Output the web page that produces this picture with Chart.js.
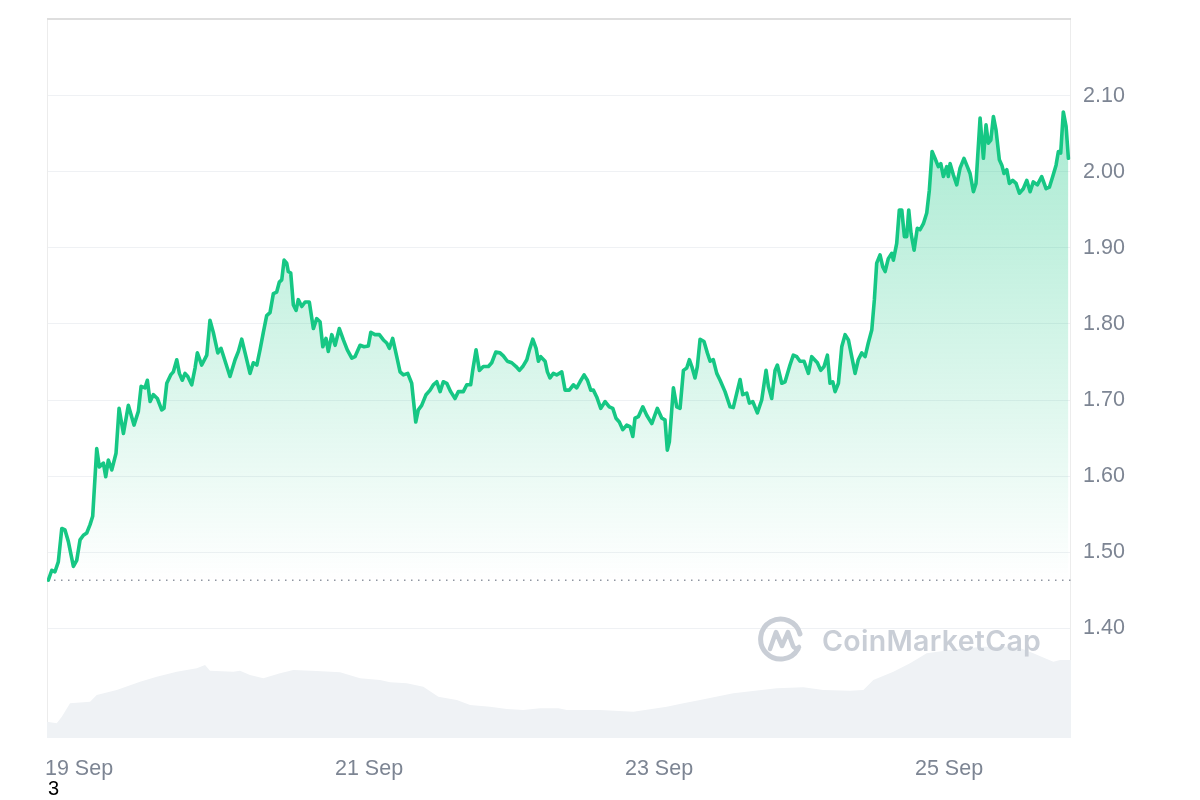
<!DOCTYPE html>
<html>
<head>
<meta charset="utf-8">
<script src="https://cdn.jsdelivr.net/npm/chart.js@4"></script>
<style>
  body { margin: 0; background: #fff; }
  #wrap { position: relative; width: 1200px; height: 800px; }
  #mark { position: absolute; left: 758px; top: 616px; pointer-events: none; display: flex; align-items: center; }
  #mark span { font-family: Inter, "Noto Sans", sans-serif; font-weight: 600; font-size: 28.5px; color: #c9ced6; margin-left: 16px; letter-spacing: 0.3px; }
  #num { position: absolute; left: 48px; top: 777px; font-family: "Liberation Sans", Arial, sans-serif; font-size: 20px; color: #000; }
</style>
</head>
<body>
<div id="wrap">
  <canvas id="priceChart" width="1200" height="800"></canvas>
  <div id="mark">
    <svg width="48" height="48" viewBox="0 0 48 48">
      <path d="M40 33 A20 20 0 1 1 42 18" fill="none" stroke="#c9ced6" stroke-width="5" stroke-linecap="round"/>
      <path d="M12 33 L18 16 L24 30 L30 16 L35 30 Q37 34 41 31" fill="none" stroke="#c9ced6" stroke-width="4.5" stroke-linejoin="round" stroke-linecap="round"/>
    </svg>
    <span>CoinMarketCap</span>
  </div>
  <div id="num">3</div>
</div>
<script>
// time in days from 19 Sep 00:00
const priceTimes = [
  -0.212, -0.188, -0.166, -0.143, -0.119, -0.097, -0.074, -0.039, -0.016, 0.007,
  0.030, 0.053, 0.076, 0.094, 0.122, 0.140, 0.168, 0.184, 0.202, 0.226,
  0.255, 0.276, 0.306, 0.340, 0.379, 0.409, 0.428, 0.455, 0.471, 0.490,
  0.512, 0.540, 0.570, 0.586, 0.605, 0.632, 0.650, 0.674, 0.692, 0.712,
  0.731, 0.750, 0.777, 0.800, 0.816, 0.846, 0.881, 0.903, 0.926, 0.957,
  0.979, 1.041, 1.076, 1.099, 1.122, 1.145, 1.179, 1.202, 1.226, 1.248,
  1.271, 1.294, 1.317, 1.340, 1.363, 1.381, 1.398, 1.414, 1.432, 1.443,
  1.460, 1.478, 1.497, 1.512, 1.536, 1.559, 1.588, 1.616, 1.639, 1.662,
  1.681, 1.703, 1.719, 1.743, 1.766, 1.795, 1.823, 1.850, 1.881, 1.903,
  1.938, 1.966, 1.995, 2.012, 2.041, 2.071, 2.099, 2.122, 2.140, 2.163,
  2.191, 2.214, 2.237, 2.267, 2.294, 2.306, 2.322, 2.340, 2.363, 2.393,
  2.421, 2.443, 2.467, 2.490, 2.512, 2.536, 2.563, 2.593, 2.616, 2.650,
  2.674, 2.701, 2.715, 2.738, 2.761, 2.788, 2.823, 2.846, 2.874, 2.903,
  2.926, 2.954, 2.984, 3.014, 3.037, 3.060, 3.088, 3.106, 3.129, 3.152,
  3.168, 3.184, 3.214, 3.230, 3.248, 3.271, 3.294, 3.329, 3.352, 3.381,
  3.409, 3.432, 3.455, 3.483, 3.506, 3.529, 3.547, 3.570, 3.598, 3.628,
  3.657, 3.681, 3.703, 3.726, 3.750, 3.777, 3.800, 3.819, 3.834, 3.857,
  3.888, 3.915, 3.950, 3.988, 4.019, 4.041, 4.057, 4.071, 4.099, 4.122,
  4.145, 4.168, 4.191, 4.209, 4.226, 4.248, 4.264, 4.283, 4.310, 4.333,
  4.352, 4.374, 4.398, 4.421, 4.455, 4.490, 4.512, 4.536, 4.559, 4.577,
  4.605, 4.623, 4.646, 4.678, 4.708, 4.738, 4.754, 4.777, 4.800, 4.816,
  4.846, 4.869, 4.903, 4.926, 4.950, 4.972, 5.000, 5.030, 5.053, 5.092,
  5.115, 5.138, 5.161, 5.179, 5.198, 5.214, 5.237, 5.260, 5.283, 5.306,
  5.329, 5.352, 5.374, 5.398, 5.421, 5.443, 5.467, 5.485, 5.501, 5.524,
  5.543, 5.559, 5.581, 5.605, 5.616, 5.639, 5.657, 5.674, 5.692, 5.708,
  5.722, 5.738, 5.759, 5.781, 5.800, 5.823, 5.846, 5.864, 5.883, 5.903,
  5.926, 5.943, 5.961, 5.984, 5.995, 6.007, 6.030, 6.053, 6.076, 6.103,
  6.126, 6.145, 6.168, 6.186, 6.214, 6.237, 6.255, 6.271, 6.288, 6.306,
  6.324, 6.347, 6.364, 6.379, 6.398, 6.416, 6.439, 6.462, 6.485, 6.512,
  6.536, 6.559, 6.581, 6.609, 6.639, 6.669, 6.692, 6.715, 6.738, 6.754,
  6.770, 6.788, 6.807, 6.823
];
const prices = [
  1.463, 1.476, 1.474, 1.487, 1.531, 1.529, 1.514, 1.481, 1.489, 1.516,
  1.522, 1.525, 1.536, 1.547, 1.636, 1.612, 1.617, 1.599, 1.621, 1.608,
  1.630, 1.689, 1.656, 1.693, 1.667, 1.685, 1.718, 1.716, 1.726, 1.698,
  1.707, 1.702, 1.687, 1.689, 1.722, 1.733, 1.737, 1.753, 1.735, 1.726,
  1.735, 1.731, 1.720, 1.742, 1.762, 1.746, 1.759, 1.805, 1.789, 1.762,
  1.768, 1.731, 1.753, 1.764, 1.780, 1.762, 1.735, 1.749, 1.746, 1.766,
  1.789, 1.811, 1.815, 1.840, 1.842, 1.855, 1.858, 1.884, 1.880, 1.869,
  1.867, 1.825, 1.818, 1.832, 1.823, 1.829, 1.829, 1.794, 1.807, 1.803,
  1.770, 1.781, 1.764, 1.786, 1.772, 1.794, 1.779, 1.766, 1.755, 1.757,
  1.772, 1.770, 1.771, 1.789, 1.786, 1.786, 1.779, 1.775, 1.768, 1.781,
  1.757, 1.737, 1.733, 1.735, 1.722, 1.700, 1.671, 1.687, 1.693, 1.707,
  1.713, 1.720, 1.724, 1.711, 1.724, 1.722, 1.711, 1.702, 1.711, 1.711,
  1.720, 1.720, 1.739, 1.766, 1.739, 1.744, 1.744, 1.749, 1.763, 1.762,
  1.758, 1.751, 1.749, 1.744, 1.739, 1.744, 1.753, 1.766, 1.780, 1.768,
  1.751, 1.757, 1.751, 1.737, 1.729, 1.735, 1.733, 1.737, 1.713, 1.713,
  1.720, 1.716, 1.724, 1.733, 1.726, 1.713, 1.713, 1.704, 1.689, 1.698,
  1.691, 1.689, 1.676, 1.671, 1.661, 1.667, 1.665, 1.652, 1.676, 1.678,
  1.691, 1.680, 1.669, 1.689, 1.676, 1.674, 1.634, 1.645, 1.716, 1.691,
  1.689, 1.739, 1.742, 1.753, 1.744, 1.729, 1.744, 1.780, 1.777, 1.762,
  1.751, 1.753, 1.735, 1.726, 1.711, 1.691, 1.690, 1.709, 1.727, 1.707,
  1.709, 1.696, 1.698, 1.683, 1.700, 1.739, 1.718, 1.702, 1.739, 1.746,
  1.722, 1.724, 1.746, 1.759, 1.757, 1.751, 1.751, 1.735, 1.757, 1.749,
  1.739, 1.744, 1.759, 1.722, 1.724, 1.711, 1.722, 1.770, 1.786, 1.779,
  1.757, 1.735, 1.753, 1.762, 1.757, 1.775, 1.792, 1.832, 1.880, 1.891,
  1.875, 1.869, 1.886, 1.893, 1.884, 1.906, 1.950, 1.950, 1.915, 1.915,
  1.950, 1.919, 1.897, 1.926, 1.924, 1.932, 1.946, 1.976, 2.027, 2.018,
  2.007, 2.011, 1.994, 2.007, 1.994, 2.011, 1.996, 1.983, 2.005, 2.018,
  2.007, 1.998, 1.974, 1.985, 2.071, 2.018, 2.062, 2.038, 2.042, 2.073,
  2.055, 2.016, 2.009, 1.998, 2.003, 1.985, 1.989, 1.985, 1.972, 1.978,
  1.989, 1.974, 1.987, 1.983, 1.994, 1.978, 1.980, 1.994, 2.009, 2.027,
  2.025, 2.079, 2.060, 2.018
];
const volTimes = [
  -0.223, -0.154, -0.119, -0.062, 0.076, 0.122, 0.260, 0.421, 0.536, 0.674,
  0.812, 0.869, 0.903, 1.064, 1.110, 1.179, 1.271, 1.386, 1.478, 1.639,
  1.800, 1.938, 2.076, 2.145, 2.260, 2.374, 2.478, 2.605, 2.697, 2.834,
  2.950, 3.064, 3.179, 3.306, 3.363, 3.593, 3.823, 4.053, 4.168, 4.283,
  4.512, 4.812, 4.995, 5.133, 5.317, 5.409, 5.478, 5.616, 5.731, 5.846,
  6.007, 6.237, 6.467, 6.581, 6.719, 6.766, 6.841
];
const volumes = [
  22.6, 20.4, 29.6, 48.2, 50.4, 59.7, 66.7, 78.2, 85.1, 92.1,
  96.8, 101.4, 93.5, 92.1, 93.5, 87.5, 82.9, 89.9, 94.4, 93.1,
  91.3, 82.9, 80.6, 77.4, 76.0, 71.3, 57.4, 52.8, 45.8, 43.5,
  40.3, 38.9, 41.3, 41.3, 38.9, 38.9, 36.5, 43.5, 48.2, 52.8,
  62.1, 69.0, 70.4, 66.7, 65.7, 66.7, 80.6, 92.1, 103.8, 117.6,
  122.2, 126.8, 126.8, 117.6, 106.0, 108.3, 108.3
];
const openPrice = 1.463;
const yTicks = [1.40, 1.50, 1.60, 1.70, 1.80, 1.90, 2.00, 2.10];
const xTicks = [0, 2, 4, 6];
const xLabels = ["19 Sep", "21 Sep", "23 Sep", "25 Sep"];

const xMin = -0.221, xMax = 6.841;
const labelColor = "#7d8593";
const labelFont = { family: "'Liberation Sans', Arial, sans-serif", size: 21.5 };

const framePlugin = {
  id: "frame",
  beforeDatasetsDraw(chart) {
    const { ctx, chartArea: a } = chart;
    ctx.save();
    ctx.strokeStyle = "#ececec";
    ctx.lineWidth = 1;
    ctx.beginPath();
    ctx.moveTo(a.left + 0.5, a.bottom);
    ctx.lineTo(a.left + 0.5, a.top);
    ctx.moveTo(a.right - 0.5, a.top);
    ctx.lineTo(a.right - 0.5, a.bottom);
    ctx.stroke();
    ctx.strokeStyle = "#dedede";
    ctx.lineWidth = 2;
    ctx.beginPath();
    ctx.moveTo(a.left, a.top + 1);
    ctx.lineTo(a.right, a.top + 1);
    ctx.stroke();
    ctx.restore();
  }
};

function greenFill(context) {
  const chart = context.chart;
  const a = chart.chartArea;
  if (!a) return "rgba(22,199,132,0.2)";
  const yBase = chart.scales.y.getPixelForValue(openPrice);
  const g = chart.ctx.createLinearGradient(0, a.top + 80, 0, yBase);
  g.addColorStop(0, "rgba(22,199,132,0.38)");
  g.addColorStop(1, "rgba(22,199,132,0.0)");
  return g;
}

// keep the plot box where the page puts it, not where the labels push it
function noLabelPadding(scale) {
  scale.paddingTop = 0;
  scale.paddingBottom = 0;
  scale.paddingLeft = 0;
  scale.paddingRight = 0;
}

const ctx = document.getElementById("priceChart").getContext("2d");
new Chart(ctx, {
  type: "line",
  data: {
    datasets: [
      {
        data: priceTimes.map((t, i) => ({ x: t, y: prices[i] })),
        yAxisID: "y",
        borderColor: "#16c784",
        borderWidth: 3.6,
        borderJoinStyle: "round",
        borderCapStyle: "round",
        pointRadius: 0,
        tension: 0,
        fill: { value: openPrice },
        backgroundColor: greenFill,
        order: 1
      },
      {
        data: [{ x: xMin, y: openPrice }, { x: xMax, y: openPrice }],
        yAxisID: "y",
        borderColor: "#8f96a1",
        borderWidth: 1.5,
        borderDash: [1.5, 5.5],
        pointRadius: 0,
        fill: false,
        order: 2
      },
      {
        data: volTimes.map((t, i) => ({ x: t, y: volumes[i] })),
        yAxisID: "vol",
        borderWidth: 0,
        borderColor: "rgba(0,0,0,0)",
        backgroundColor: "#eff2f5",
        pointRadius: 0,
        tension: 0,
        fill: "origin",
        order: 3
      }
    ]
  },
  options: {
    responsive: false,
    animation: false,
    devicePixelRatio: 1,
    layout: { padding: { left: 47, top: 18, right: 0, bottom: 0 } },
    plugins: { legend: { display: false }, tooltip: { enabled: false } },
    scales: {
      x: {
        type: "linear",
        min: xMin,
        max: xMax,
        afterBuildTicks: scale => { scale.ticks = xTicks.map(v => ({ value: v })); },
        afterFit: scale => { scale.height = 62; noLabelPadding(scale); },
        grid: { display: false, drawTicks: false },
        border: { display: false },
        ticks: {
          autoSkip: false,
          maxRotation: 0,
          padding: 18,
          color: labelColor,
          font: labelFont,
          callback: v => xLabels[xTicks.indexOf(v)]
        }
      },
      y: {
        type: "linear",
        position: "right",
        min: 1.2553,
        max: 2.2026,
        afterBuildTicks: scale => { scale.ticks = yTicks.map(v => ({ value: v })); },
        afterFit: scale => { scale.width = 129; noLabelPadding(scale); },
        grid: { color: "#eff1f4", lineWidth: 1, drawTicks: false },
        border: { display: false },
        ticks: {
          padding: 12,
          color: labelColor,
          font: labelFont,
          callback: v => v.toFixed(2)
        }
      },
      vol: {
        type: "linear",
        display: false,
        min: 0,
        max: 1000
      }
    }
  },
  plugins: [framePlugin]
});
</script>
</body>
</html>
